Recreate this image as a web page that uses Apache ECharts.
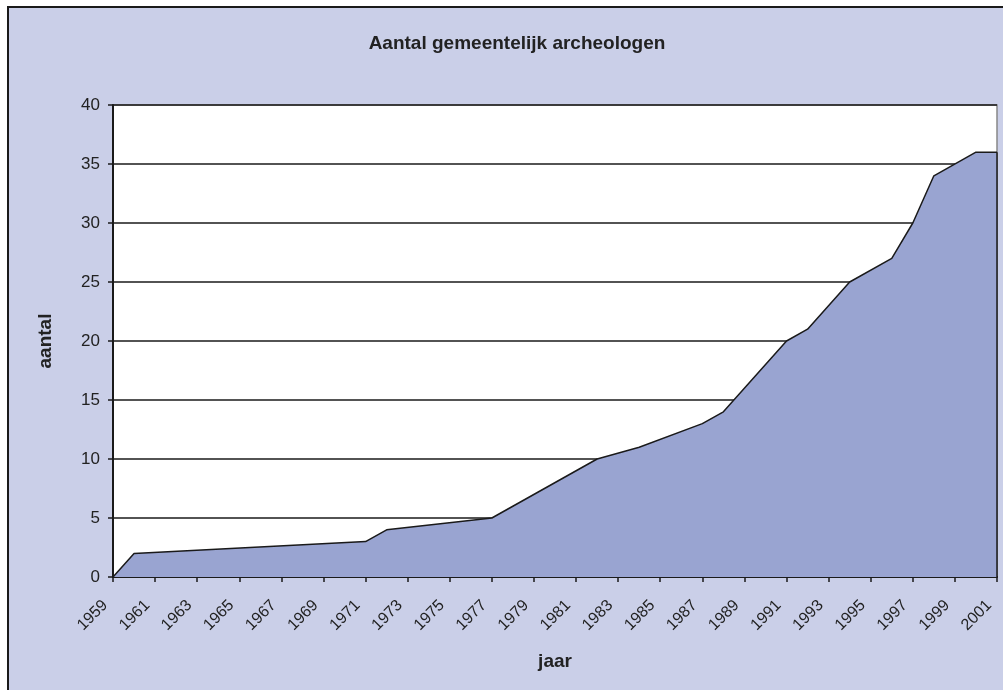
<!DOCTYPE html>
<html>
<head>
<meta charset="utf-8">
<script src="https://cdn.jsdelivr.net/npm/echarts@6/dist/echarts.min.js"></script>
<style>
  html, body { margin: 0; padding: 0; background: #ffffff; }
  #chart { width: 1003px; height: 690px; }
</style>
</head>
<body>
<div id="chart"></div>
<script>
// years where the line changes direction, and the count at that year
var years = [1959, 1960, 1971, 1972, 1977, 1982, 1984, 1987, 1988, 1991, 1992, 1994, 1996, 1997, 1998, 2000, 2001];
var counts = [0, 2, 3, 4, 5, 10, 11, 13, 14, 20, 21, 25, 27, 30, 34, 36, 36];
var firstYear = 1959;
var lastYear = 2001;
var yTicks = [0, 5, 10, 15, 20, 25, 30, 35, 40];

var points = years.map(function (y, i) { return [y - firstYear, counts[i]]; });
var last = points[points.length - 1];

var chart = echarts.init(document.getElementById('chart'));
chart.setOption({
    animation: false,
    graphic: [
        {
            type: 'rect',
            z: -10,
            shape: { x: 8, y: 7, width: 1010, height: 700 },
            style: { fill: '#cacfe8', stroke: '#1a1a1a', lineWidth: 2 }
        }
    ],
    title: {
        text: 'Aantal gemeentelijk archeologen',
        left: 512,
        top: 29,
        textAlign: 'center',
        textStyle: { fontFamily: 'Liberation Sans', fontSize: 19, fontWeight: 'bold', color: '#222' }
    },
    grid: {
        left: 113,
        right: 6,
        top: 105,
        bottom: 113,
        show: true,
        backgroundColor: '#ffffff',
        borderColor: '#888888',
        borderWidth: 1.5
    },
    xAxis: {
        type: 'value',
        min: 0,
        max: lastYear - firstYear,
        interval: 2,
        name: 'jaar',
        nameLocation: 'middle',
        nameGap: 75,
        nameTextStyle: { fontFamily: 'Liberation Sans', fontSize: 19, fontWeight: 'bold', color: '#222' },
        axisLine: { lineStyle: { color: '#1a1a1a', width: 2 } },
        axisTick: { length: 5, lineStyle: { color: '#1a1a1a', width: 1.5 } },
        splitLine: { show: false },
        axisLabel: {
            rotate: 45,
            margin: 18,
            padding: [0, 11, 0, 0],
            fontFamily: 'Liberation Sans',
            fontSize: 16,
            color: '#222',
            formatter: function (v) { return String(v + firstYear); }
        }
    },
    yAxis: {
        type: 'value',
        min: yTicks[0],
        max: yTicks[yTicks.length - 1],
        interval: 5,
        name: 'aantal',
        nameLocation: 'middle',
        nameGap: 58,
        nameTextStyle: { fontFamily: 'Liberation Sans', fontSize: 19, fontWeight: 'bold', color: '#222' },
        axisLine: { show: true, lineStyle: { color: '#1a1a1a', width: 2 } },
        axisTick: { show: true, length: 5, lineStyle: { color: '#1a1a1a', width: 1.5 } },
        splitLine: { lineStyle: { color: '#1a1a1a', width: 1.5 } },
        axisLabel: { margin: 13, fontFamily: 'Liberation Sans', fontSize: 17, color: '#222' }
    },
    series: [
        {
            type: 'line',
            data: points,
            symbol: 'none',
            lineStyle: { color: '#1a1a1a', width: 1.5 },
            areaStyle: { color: '#99a4d1', opacity: 1 },
            markLine: {
                silent: true,
                symbol: 'none',
                label: { show: false },
                lineStyle: { color: '#1a1a1a', width: 1.5, type: 'solid' },
                data: [[{ coord: [last[0], 0] }, { coord: [last[0], last[1]] }]]
            }
        }
    ]
});
</script>
</body>
</html>
